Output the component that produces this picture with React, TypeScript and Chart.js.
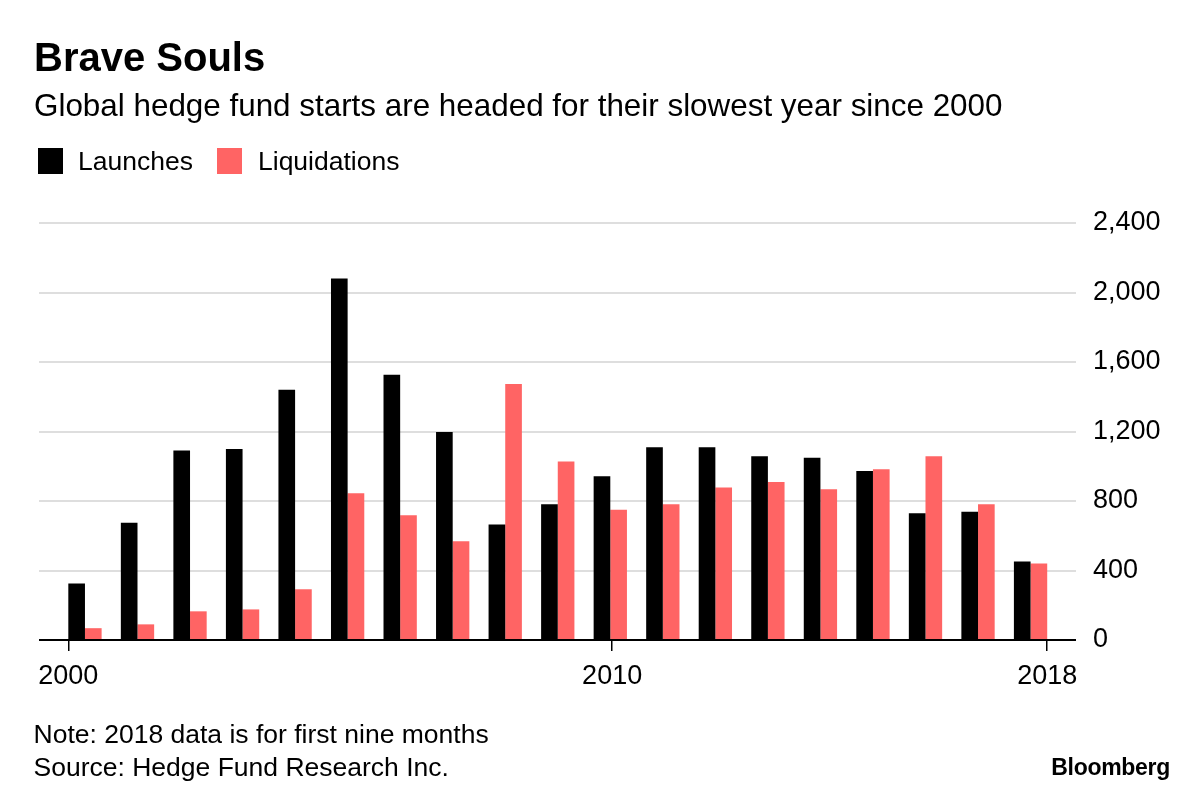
import React, { useEffect, useRef } from 'react';
import { Chart, registerables } from 'chart.js';

Chart.register(...registerables);

// ---- data ----
const years = [2000, 2001, 2002, 2003, 2004, 2005, 2006, 2007, 2008, 2009, 2010, 2011, 2012, 2013, 2014, 2015, 2016, 2017, 2018];
const launches = [325, 675, 1091, 1100, 1441, 2081, 1526, 1197, 665, 781, 943, 1110, 1110, 1058, 1049, 973, 729, 738, 452];
const liquidations = [68, 90, 165, 176, 292, 845, 718, 569, 1474, 1027, 750, 781, 877, 910, 868, 983, 1058, 781, 440];
const xTickYears = [2000, 2010, 2018];
const yTickValues = [0, 400, 800, 1200, 1600, 2000, 2400];
const seriesNames = ['Launches', 'Liquidations'];
const seriesColors = ['#000000', '#ff6464'];

const titleText = 'Brave Souls';
const subtitleText = 'Global hedge fund starts are headed for their slowest year since 2000';
const noteLines = ['Note: 2018 data is for first nine months', 'Source: Hedge Fund Research Inc.'];
const brandText = 'Bloomberg';

const FONT = '"Liberation Sans", Arial, Helvetica, sans-serif';
const PAIR = 0.634; // fraction of a year occupied by a pair of bars

export default function App() {
  const canvasRef = useRef<HTMLCanvasElement | null>(null);

  useEffect(() => {
    document.body.style.margin = '0';
    const canvas = canvasRef.current;
    if (!canvas) return;
    const first = years[0];
    const last = years[years.length - 1];
    const half = PAIR / 2;
    const tickPos = (y: number) => first - half + ((y - first) / (last - first)) * (last - first + 2 * half);

    const chart = new Chart(canvas, {
      type: 'bar',
      data: {
        datasets: [
          {
            label: seriesNames[0],
            data: years.map((y, i) => ({ x: y, y: launches[i] })),
            backgroundColor: seriesColors[0],
            borderWidth: 0,
            categoryPercentage: PAIR,
            barPercentage: 1,
          },
          {
            label: seriesNames[1],
            data: years.map((y, i) => ({ x: y, y: liquidations[i] })),
            backgroundColor: seriesColors[1],
            borderWidth: 0,
            categoryPercentage: PAIR,
            barPercentage: 1,
          },
        ],
      } as any,
      options: {
        animation: false,
        responsive: false,
        devicePixelRatio: 1,
        layout: { padding: { left: 39, top: 223, right: 0, bottom: 0 } },
        plugins: {
          legend: { display: false },
          tooltip: { enabled: false },
          title: { display: false },
        },
        scales: {
          x: {
            type: 'linear',
            offset: false,
            min: first - 0.875,
            max: last + 0.865,
            afterBuildTicks: (s: any) => {
              s.ticks = xTickYears.map((y) => ({ value: tickPos(y) }));
            },
            afterFit: (s: any) => {
              s.height = 156;
            },
            grid: {
              offset: false,
              drawOnChartArea: false,
              drawTicks: true,
              tickLength: 11,
              color: '#000000',
              lineWidth: 1.5,
            },
            border: { display: false },
            ticks: {
              autoSkip: false,
              maxRotation: 0,
              padding: 9,
              color: '#000000',
              font: { family: FONT, size: 27 },
              callback: (_v: any, i: number) => String(xTickYears[i]),
            },
          },
          y: {
            position: 'right',
            min: 0,
            max: 2400,
            afterBuildTicks: (s: any) => {
              s.ticks = yTickValues.map((v) => ({ value: v }));
            },
            afterFit: (s: any) => {
              s.width = 124;
            },
            grid: {
              drawTicks: false,
              color: (ctx: any) => (ctx.tick && ctx.tick.value === 0 ? '#000000' : '#dedede'),
              lineWidth: 2,
            },
            border: { display: false },
            ticks: {
              padding: 17,
              color: '#000000',
              font: { family: FONT, size: 27 },
              callback: (v: any) => Number(v).toLocaleString('en-US'),
            },
          },
        },
      } as any,
    });
    return () => chart.destroy();
  }, []);

  const text = (fs: number, baseline: number, extra: React.CSSProperties = {}): React.CSSProperties => ({
    position: 'absolute',
    fontFamily: FONT,
    fontSize: fs,
    lineHeight: `${fs}px`,
    top: baseline - 0.8465 * fs,
    whiteSpace: 'nowrap',
    color: '#000',
    ...extra,
  });

  const legendX = [37.5, 216.6];
  const legendTextX = [78, 258];

  return (
    <div style={{ position: 'relative', width: 1200, height: 796, background: '#fff', overflow: 'hidden' }}>
      <canvas
        ref={canvasRef}
        width={1200}
        height={796}
        style={{ position: 'absolute', left: 0, top: 0, width: 1200, height: 796, display: 'block' }}
      />
      <div style={text(40, 70.7, { left: 34, fontWeight: 'bold' })}>{titleText}</div>
      <div style={text(31.4, 116.5, { left: 34 })}>{subtitleText}</div>
      {seriesNames.map((name, i) => (
        <React.Fragment key={name}>
          <div
            style={{
              position: 'absolute',
              left: legendX[i],
              top: 148.3,
              width: 25.6,
              height: 25.7,
              background: seriesColors[i],
            }}
          />
          <div style={text(26.5, 170, { left: legendTextX[i] })}>{name}</div>
        </React.Fragment>
      ))}
      {noteLines.map((line, i) => (
        <div key={i} style={text(26.5, 743.3 + i * 33.4, { left: 33.5 })}>
          {line}
        </div>
      ))}
      <div style={text(23, 775, { right: 30, fontWeight: 'bold', letterSpacing: '-0.3px' })}>{brandText}</div>
    </div>
  );
}
